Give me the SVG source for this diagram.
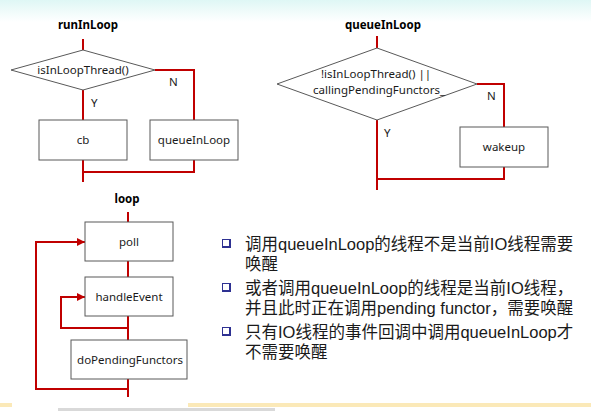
<svg xmlns="http://www.w3.org/2000/svg" width="591" height="411" viewBox="0 0 591 411">
<defs>
<linearGradient id="topg" x1="0" y1="0" x2="0" y2="1">
<stop offset="0" stop-color="#dff7f5"/>
<stop offset="1" stop-color="#ffffff"/>
</linearGradient>
<marker id="arr" markerWidth="8" markerHeight="8" refX="8" refY="4" orient="auto" markerUnits="userSpaceOnUse">
<path d="M0,0 L8,4 L0,8 Z" fill="#c00000"/>
</marker>
<style>
.box{fill:#ffffff;stroke:#595959;stroke-width:1}
.dia{fill:#ffffff;stroke:#595959;stroke-width:1}
.lbl{font-family:"Noto Sans","Liberation Sans",sans-serif;font-size:11.5px;fill:#1a1a1a;text-anchor:middle}
.ttl{font-family:"Noto Sans","Liberation Sans",sans-serif;font-size:11.5px;font-weight:bold;fill:#000;text-anchor:middle}
.yn{font-family:"Noto Sans","Liberation Sans",sans-serif;font-size:11.5px;fill:#1a1a1a}
.con{fill:none;stroke:#c00000;stroke-width:2}
.bt{font-family:"Liberation Sans","Noto Sans CJK SC",sans-serif;font-size:16.5px;fill:#1a1a1a}
</style>
</defs>
<rect x="0" y="0" width="591" height="411" fill="#ffffff"/>
<rect x="0" y="0" width="591" height="22" fill="url(#topg)"/>

<g id="connectors">
<path class="con" d="M83,39 V50"/>
<path class="con" d="M155,70 H194 V120"/>
<path class="con" d="M83,90 V120"/>
<path class="con" d="M83,160 V182"/>
<path class="con" d="M194,160 V172 H83"/>
<path class="con" d="M377,36 V48"/>
<path class="con" d="M477,84 H504 V127"/>
<path class="con" d="M377,120 V190"/>
<path class="con" d="M504,167 V179 H377"/>
<path class="con" d="M128,212 V222"/>
<path class="con" d="M128,261 V277"/>
<path class="con" d="M128,316 V340"/>
<path class="con" d="M128,379 V397"/>
<path class="con" d="M128,328 H61 V297 H85" marker-end="url(#arr)"/>
<path class="con" d="M128,389 H36 V242 H85" marker-end="url(#arr)"/>
</g>

<text class="ttl" x="88" y="29">runInLoop</text>
<text class="ttl" x="383" y="29">queueInLoop</text>
<text class="ttl" x="127" y="203">loop</text>

<g id="isInLoopThread">
<polygon class="dia" points="83,50 155,70 83,90 11,70"/>
<text class="lbl" x="83" y="74">isInLoopThread()</text>
</g>
<text class="yn" x="91" y="107">Y</text>
<text class="yn" x="169" y="86">N</text>
<g id="cb">
<rect class="box" x="39" y="120" width="88" height="40"/>
<text class="lbl" x="83" y="144">cb</text>
</g>
<g id="queueInLoopBox">
<rect class="box" x="150" y="120" width="88" height="40"/>
<text class="lbl" x="194" y="144">queueInLoop</text>
</g>

<g id="cond2">
<polygon class="dia" points="377,48 477,84 377,120 277,84"/>
<text class="lbl" x="376" y="78">!isInLoopThread() ||</text>
<text class="lbl" x="379" y="94">callingPendingFunctors_</text>
</g>
<text class="yn" x="384" y="137">Y</text>
<text class="yn" x="487" y="100">N</text>
<g id="wakeup">
<rect class="box" x="460" y="127" width="88" height="40"/>
<text class="lbl" x="504" y="151">wakeup</text>
</g>

<g id="poll">
<rect class="box" x="85" y="222" width="88" height="39"/>
<text class="lbl" x="129" y="246">poll</text>
</g>
<g id="handleEvent">
<rect class="box" x="85" y="277" width="88" height="39"/>
<text class="lbl" x="129" y="301">handleEvent</text>
</g>
<g id="doPendingFunctors">
<rect class="box" x="71" y="340" width="116" height="39"/>
<text class="lbl" x="130" y="364">doPendingFunctors</text>
</g>

<g id="notes">
<g fill="#2e3192">
<rect x="222" y="239" width="9" height="9"/>
<rect x="222" y="283" width="9" height="9"/>
<rect x="222" y="327" width="9" height="9"/>
</g>
<g fill="#ffffff">
<rect x="223" y="240" width="6" height="6"/>
<rect x="223" y="284" width="6" height="6"/>
<rect x="223" y="328" width="6" height="6"/>
</g>
<text class="bt" x="245" y="250">调用queueInLoop的线程不是当前IO线程需要</text>
<text class="bt" x="245" y="270">唤醒</text>
<text class="bt" x="245" y="294">或者调用queueInLoop的线程是当前IO线程，</text>
<text class="bt" x="245" y="314">并且此时正在调用pending functor，需要唤醒</text>
<text class="bt" x="245" y="338">只有IO线程的事件回调中调用queueInLoop才</text>
<text class="bt" x="245" y="358">不需要唤醒</text>
</g>

<rect x="0" y="403" width="12" height="4" fill="#fbe9b8"/>
<rect x="188" y="403" width="403" height="4" fill="#fbe9b8"/>
<rect x="58" y="408" width="217" height="3" fill="#d9d9d9"/>
</svg>
